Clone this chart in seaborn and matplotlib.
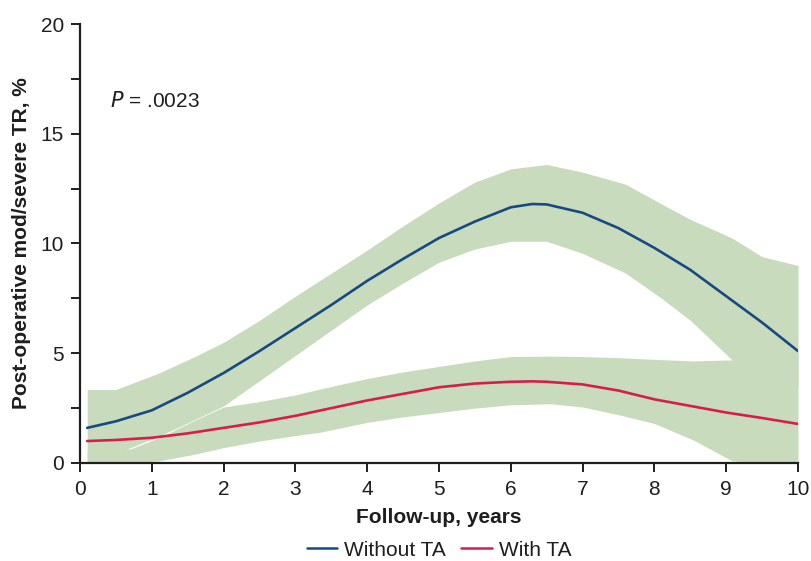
import matplotlib
matplotlib.use("Agg")
import matplotlib.pyplot as plt
import seaborn as sns
import pandas as pd
from matplotlib.ticker import MultipleLocator
from matplotlib.lines import Line2D

# ---- data ----
years = [0.1, 0.5, 1, 1.5, 2, 2.5, 3, 3.5, 4, 4.5, 5, 5.5, 6, 6.3, 6.5, 7, 7.5, 8, 8.5, 9, 9.5, 10]
without_ta = [1.6, 1.9, 2.4, 3.2, 4.1, 5.1, 6.15, 7.2, 8.3, 9.3, 10.25, 11.0, 11.65, 11.8, 11.78,
              11.4, 10.7, 9.8, 8.8, 7.6, 6.4, 5.1]
with_ta = [1.0, 1.05, 1.15, 1.35, 1.6, 1.85, 2.15, 2.5, 2.85, 3.15, 3.45, 3.62, 3.7, 3.72, 3.7,
           3.58, 3.3, 2.9, 2.6, 2.3, 2.05, 1.78]

band_wo_x = [0.1, 0.5, 0.7, 1.1, 1.6, 2, 2.5, 3, 3.5, 4, 4.5, 5, 5.5, 6, 6.5, 7, 7.6, 8.1, 8.5, 9.08, 9.5, 10]
band_wo_upper = [3.35, 3.35, 3.6, 4.1, 4.85, 5.5, 6.5, 7.6, 8.65, 9.7, 10.8, 11.85, 12.8, 13.4, 13.6,
                 13.25, 12.7, 11.8, 11.1, 10.25, 9.4, 9.0]
band_wo_lower = [0.0, 0.4, 0.7, 1.22, 1.98, 2.6, 3.75, 4.9, 6.05, 7.2, 8.2, 9.15, 9.75, 10.1, 10.1,
                 9.55, 8.65, 7.5, 6.5, 4.7, 4.0, 3.5]

band_w_x = [0.1, 0.5, 0.7, 1.1, 1.6, 2, 2.5, 3, 3.34, 4, 4.5, 5, 5.5, 6, 6.55, 7, 7.5, 8, 8.54, 9.08, 9.5, 10]
band_w_upper = [0.6, 0.62, 0.64, 1.15, 1.95, 2.55, 2.8, 3.1, 3.37, 3.85, 4.15, 4.4, 4.65, 4.85, 4.87,
                4.85, 4.8, 4.72, 4.65, 4.7, 4.8, 5.0]
band_w_lower = [0.0, 0.0, 0.0, 0.1, 0.4, 0.7, 1.0, 1.25, 1.4, 1.85, 2.1, 2.3, 2.5, 2.65, 2.7,
                2.55, 2.2, 1.8, 1.05, 0.1, 0.0, 0.0]

x_ticks = list(range(0, 11))
y_ticks = [0, 5, 10, 15, 20]

BLUE = "#174a82"
RED = "#d51f4a"
GREEN = "#c9dbbd"
INK = "#1e1e1e"
FS = 15

sns.set_style("ticks")
plt.rcParams["font.family"] = ["Liberation Sans", "DejaVu Sans"]

fig = plt.figure(figsize=(8.11, 5.61), dpi=100)
ax = fig.add_axes([80 / 811, 1 - 463 / 561, (798 - 80) / 811, (463 - 24) / 561])

ax.fill_between(band_wo_x, band_wo_lower, band_wo_upper, color=GREEN, lw=0, zorder=1)
ax.fill_between(band_w_x, band_w_lower, band_w_upper, color=GREEN, lw=0, zorder=1)

df = pd.DataFrame({
    "Follow-up, years": years * 2,
    "value": without_ta + with_ta,
    "group": ["Without TA"] * len(years) + ["With TA"] * len(years),
})
sns.lineplot(data=df, x="Follow-up, years", y="value", hue="group",
             palette={"Without TA": BLUE, "With TA": RED}, linewidth=1.9, ax=ax,
             legend=False, zorder=3)

ax.set_xlim(0, 10)
ax.set_ylim(0, 20)
ax.set_xticks(x_ticks)
ax.set_yticks(y_ticks)
ax.yaxis.set_minor_locator(MultipleLocator(2.5))
ax.tick_params(axis="both", which="both", direction="out", length=6.5, width=1.4,
               color=INK, labelsize=FS, labelcolor=INK)
ax.tick_params(axis="x", pad=6)
ax.tick_params(axis="y", pad=5)
for s in ["top", "right"]:
    ax.spines[s].set_visible(False)
for s in ["left", "bottom"]:
    ax.spines[s].set_linewidth(1.6)
    ax.spines[s].set_color(INK)

ax.set_xlabel("Follow-up, years", fontsize=FS, fontweight="bold", color=INK, labelpad=6)
ax.set_ylabel("Post-operative mod/severe TR, %", fontsize=FS, fontweight="bold",
              color=INK, labelpad=7)

ax.text(0.42, 16.5, r"$P$ = .0023", fontsize=FS, color=INK, va="center",
        math_fontfamily="dejavusans")

handles = [Line2D([], [], color=BLUE, lw=1.8), Line2D([], [], color=RED, lw=1.8)]
fig.legend(handles, ["Without TA", "With TA"], loc="center", ncol=2, frameon=False,
           bbox_to_anchor=(439 / 811, 1 - 550 / 561), fontsize=FS, handlelength=1.45,
           columnspacing=0.75, handletextpad=0.35, labelcolor=INK, borderpad=0)

fig.savefig("out.png", dpi=100)
